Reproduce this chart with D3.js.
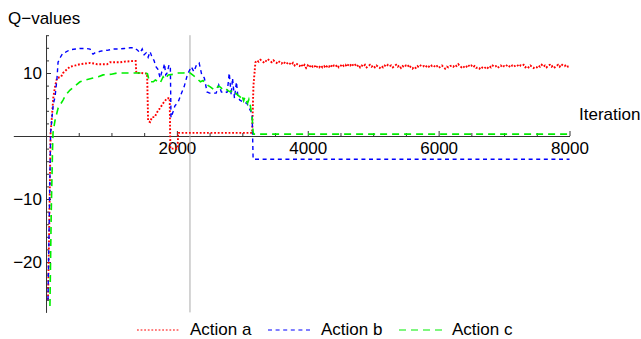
<!DOCTYPE html>
<html>
<head>
<meta charset="utf-8">
<script src="https://cdn.jsdelivr.net/npm/d3@7"></script>
<style>
  body { margin: 0; background: #fff; }
  svg { display: block; font-family: "Liberation Sans", Arial, Helvetica, sans-serif; }
  .axis path, .axis line { stroke: #333; }
  .axis text { font-size: 17px; fill: #000; font-family: "Liberation Sans", Arial, sans-serif; }
</style>
</head>
<body>
<svg id="chart" width="641" height="339"></svg>
<script>
// Q-value traces: [iteration, value]
const actionAHead = [
  [30,-26],[50,-14],[70,0.5],[90,3],[110,6],[140,8],[168,9.2],[230,9.4],[260,10.0],[300,10.4],
  [367,11.0],[450,11.2],[520,11.4],[600,11.5],[673,11.6],[740,11.5],[780,11.4],[850,11.4],
  [933,11.4],[979,11.7],[1050,11.7],[1132,11.7],[1200,11.8],[1331,11.9],[1370,11.9],[1380,10.0],
  [1450,10.0],[1545,9.9],[1560,2.4],[1590,2.2],[1620,3.0],[1660,3.0],[1700,3.8],[1740,4.4],
  [1790,5.2],[1820,5.6],[1850,6.0],[1890,6.0],[1900,-2.0],[2010,-2.0],[2020,0.5],[3150,0.5],
  [3170,8]
];
// noisy tail of action a, one value every 25 iterations from 3200 to 8000
const actionATailStart = 3200;
const actionATailStep = 25;
const actionATail = [
  11.7,12.0,11.8,12.1,11.9,11.7,12.0,11.8,12.1,11.9,11.7,12.0,11.8,11.6,11.9,11.7,11.5,11.8,11.6,11.4,
  11.7,11.5,11.3,11.6,11.2,11.5,11.3,11.1,11.4,11.0,11.3,10.8,11.2,10.9,11.3,11.0,11.2,10.8,11.1,10.9,
  11.2,10.9,11.1,10.8,11.2,11.0,11.3,10.9,11.2,11.0,11.3,10.9,11.1,11.4,11.1,11.3,11.0,11.4,11.2,11.5,
  11.1,11.3,11.0,11.3,10.9,11.2,11.0,11.3,10.9,11.1,11.3,11.0,11.2,10.9,11.2,11.0,10.8,11.1,10.9,11.2,
  11.0,11.3,11.1,11.2,10.9,11.1,11.3,11.0,11.2,10.8,11.1,10.9,11.2,11.0,11.3,10.9,10.7,11.0,10.8,11.1,
  10.9,11.2,11.0,11.1,10.9,11.2,11.0,11.3,11.1,11.2,10.9,11.1,10.8,11.0,11.2,10.9,10.7,11.0,10.9,11.1,
  11.2,11.0,11.3,11.1,11.4,11.1,10.9,11.1,10.8,11.0,11.3,11.0,11.2,10.9,11.1,10.8,10.9,10.7,11.0,10.8,
  10.7,11.0,10.8,11.1,10.9,11.2,11.0,11.1,10.8,11.0,11.2,10.9,11.1,11.0,11.3,11.1,10.9,11.2,11.0,11.2,
  11.3,11.0,11.2,11.1,11.3,10.9,11.1,10.9,11.2,11.0,10.8,11.0,10.9,11.2,11.0,11.3,11.0,11.2,10.9,11.2,
  11.3,11.0,11.2,10.9,11.1,11.3,11.0,11.4,11.2,11.1,11.3,11.0,11.1
];

const actionB = [
  [30,-26],[50,-13],[70,0.5],[110,5],[138,6.2],[168,9.2],[184,11.7],[220,12.5],[260,13.2],
  [300,13.3],[367,13.7],[450,13.8],[520,13.9],[600,13.9],[673,13.8],[700,13.2],[719,13.0],
  [760,13.3],[780,13.3],[850,13.5],[933,13.6],[1025,13.8],[1100,13.8],[1200,13.9],[1285,14.0],
  [1350,14.0],[1400,13.6],[1438,13.2],[1470,13.8],[1500,12.9],[1530,13.2],[1560,12.5],[1590,13.4],
  [1620,12.5],[1650,12.0],[1680,11.0],[1710,10.6],[1744,9.2],[1770,10.2],[1790,10.5],[1810,11.5],
  [1830,9.7],[1850,10.0],[1880,11.3],[1900,11.0],[1910,2.9],[1940,3.8],[1970,4.8],[2020,5.4],
  [2070,6.8],[2110,7.8],[2160,9.7],[2220,11.0],[2260,10.2],[2300,11.3],[2340,11.6],[2380,9.7],
  [2420,9.2],[2460,7.0],[2500,6.8],[2550,6.8],[2600,6.8],[2640,8.1],[2680,7.0],[2720,6.8],
  [2770,7.0],[2800,10.0],[2830,6.5],[2850,9.2],[2880,6.0],[2910,8.6],[2930,6.5],[2960,5.7],
  [3010,5.4],[3070,5.2],[3120,4.1],[3150,3.5],[3165,-3.7],[8000,-3.7]
];

const actionC = [
  [60,-27],[80,-12],[100,-2],[107,0.5],[138,2.5],[184,4.4],[260,5.7],[300,6.5],[367,7.3],
  [450,8.0],[520,8.6],[600,8.9],[719,9.2],[800,9.4],[872,9.7],[1000,9.8],[1086,10.0],[1300,10.0],
  [1484,10.0],[1550,9.9],[1580,8.6],[1640,8.6],[1670,8.9],[1744,8.4],[1790,9.4],[1820,9.0],
  [1867,9.7],[1950,9.8],[2020,10.0],[2100,10.0],[2180,10.2],[2240,9.7],[2300,9.2],[2360,8.6],
  [2400,8.8],[2430,8.4],[2480,8.0],[2510,7.8],[2560,7.4],[2590,7.3],[2630,7.9],[2660,7.8],
  [2700,7.4],[2740,7.6],[2780,7.2],[2815,7.0],[2850,7.3],[2890,6.9],[2930,6.5],[2968,6.2],
  [2990,6.6],[3020,5.6],[3040,6.2],[3080,5.2],[3100,5.8],[3121,4.9],[3150,2.9],[3165,0.6],
  [3175,0.3],[8000,0.3]
];

const seriesNames = ["Action a", "Action b", "Action c"];
const xMajorTicks = [2000, 4000, 6000, 8000];
const yMajorTicks = [-20, -10, 10];
const markerIteration = 2200;

const actionA = actionAHead.concat(actionATail.map((v, i) => [actionATailStart + i * actionATailStep, v]));

const svg = d3.select("#chart");

// scales (x axis runs a bit left of 0, like the original plot range)
const x = d3.scaleLinear().domain([-500, 8000]).range([13.3, 569.5]);
const y = d3.scaleLinear().domain([-28, 16]).range([312.4, 35.2]);

// minor ticks
const xMinor = d3.range(500, 8000, 500).filter(d => d % 2000 !== 0);
const yMinor = d3.range(-26, 17, 2).filter(d => d % 10 !== 0);

// x axis
svg.append("g")
    .attr("class", "axis")
    .attr("transform", "translate(0," + y(0) + ")")
    .call(d3.axisBottom(x).tickValues(xMajorTicks).tickSize(-5).tickSizeOuter(0).tickPadding(6)
        .tickFormat(d3.format("d")));
svg.append("g")
    .attr("class", "axis")
    .attr("transform", "translate(0," + y(0) + ")")
    .call(d3.axisBottom(x).tickValues(xMinor).tickSize(-3).tickFormat(""))
    .call(g => g.select(".domain").remove());

// y axis
svg.append("g")
    .attr("class", "axis")
    .attr("transform", "translate(" + x(0) + ",0)")
    .call(d3.axisLeft(y).tickValues(yMajorTicks).tickSize(-5).tickSizeOuter(0).tickPadding(4));
svg.append("g")
    .attr("class", "axis")
    .attr("transform", "translate(" + x(0) + ",0)")
    .call(d3.axisLeft(y).tickValues(yMinor).tickSize(-3).tickFormat(""))
    .call(g => g.select(".domain").remove());

svg.selectAll(".axis .tick text").style("font-size", "17px");

// grey marker line
svg.append("line")
    .attr("x1", x(markerIteration)).attr("x2", x(markerIteration))
    .attr("y1", y(16)).attr("y2", y(-28))
    .attr("stroke", "#aaa").attr("stroke-width", 1);

// lines
const styles = [
    { color: "#ff0000", dash: "1.8,1.8", width: 1.9 },
    { color: "#0000ff", dash: "4,3.6", width: 1.4 },
    { color: "#00ee00", dash: "7,5", width: 1.6 }
];
const line = d3.line().x(d => x(d[0])).y(d => y(d[1]));

[actionA, actionB, actionC].forEach((data, i) => {
    svg.append("path")
        .datum(data)
        .attr("fill", "none")
        .attr("stroke", styles[i].color)
        .attr("stroke-width", styles[i].width)
        .attr("stroke-dasharray", styles[i].dash)
        .attr("d", line);
});

// axis labels
svg.append("text").attr("x", 8).attr("y", 24).style("font-size", "17px").text("Q\u2212values");
svg.append("text").attr("x", 579).attr("y", 120).style("font-size", "17px").text("Iteration");

// legend
const legendX = [137, 268, 399];
seriesNames.forEach((name, i) => {
    const g = svg.append("g").attr("transform", "translate(" + legendX[i] + ",330)");
    g.append("line")
        .attr("x1", 0).attr("x2", 43).attr("y1", 0).attr("y2", 0)
        .attr("stroke", styles[i].color)
        .attr("stroke-width", 1.2)
        .attr("stroke-dasharray", styles[i].dash);
    g.append("text").attr("x", 53).attr("y", 5).style("font-size", "17px").text(name);
});
</script>
</body>
</html>
